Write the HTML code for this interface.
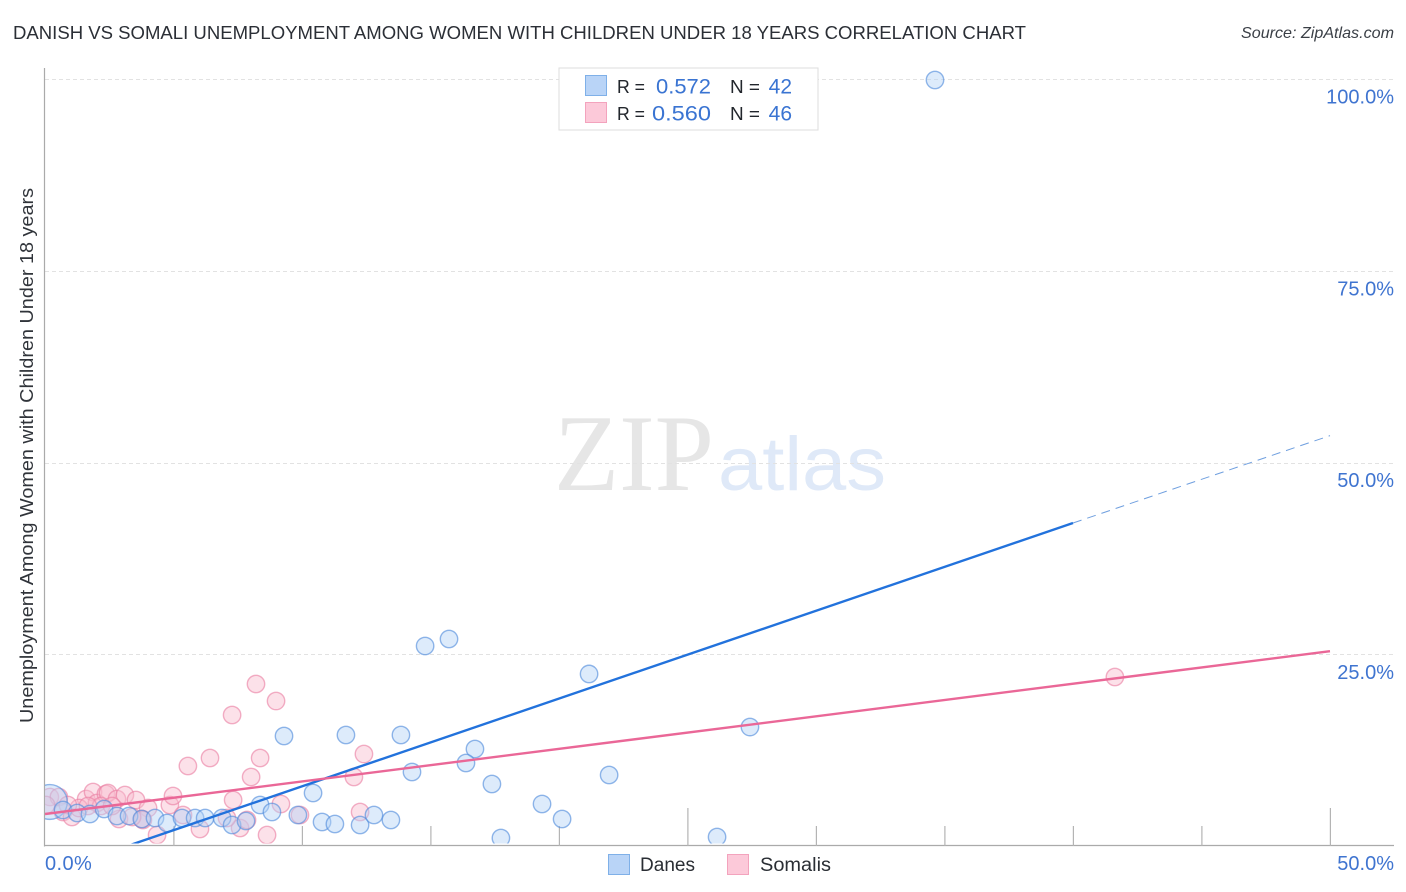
<!DOCTYPE html>
<html lang="en">
<head>
<meta charset="utf-8">
<title>Danish vs Somali Unemployment Correlation Chart</title>
<style>
html,body{margin:0;padding:0;background:#fff;width:1406px;height:892px;overflow:hidden}
svg{display:block;font-family:"Liberation Sans",sans-serif}
</style>
</head>
<body>
<svg id="chart" xmlns="http://www.w3.org/2000/svg" width="1406" height="892" viewBox="0 0 1406 892">
  <defs>
    <clipPath id="plot-clip"><rect x="45" y="60" width="1349" height="783.5"></rect></clipPath>
  </defs>
  <rect x="0" y="0" width="1406" height="892" fill="#ffffff"></rect>
  <text x="13" y="39" font-size="18.5" fill="#2b2f36" textLength="1013" lengthAdjust="spacingAndGlyphs">DANISH VS SOMALI UNEMPLOYMENT AMONG WOMEN WITH CHILDREN UNDER 18 YEARS CORRELATION CHART</text>
  <text x="1241" y="38" font-size="16" font-style="italic" fill="#3a3f46" textLength="153" lengthAdjust="spacingAndGlyphs">Source: ZipAtlas.com</text>
  <g>
    <text x="554" y="490" font-family="'Liberation Serif',serif" font-size="109" fill="#e6e6e6" textLength="160" lengthAdjust="spacingAndGlyphs">ZIP</text>
    <text x="718" y="490" font-size="76" fill="#dfe9f8" textLength="168" lengthAdjust="spacingAndGlyphs">atlas</text>
  </g>
  <g id="grid"></g>
  <g id="axes"></g>
  <g id="points" clip-path="url(#plot-clip)"></g>
  <g id="trends" clip-path="url(#plot-clip)"></g>
  <g id="labels"></g>
  <text transform="translate(33,455.5) rotate(-90)" font-size="18" fill="#30343a" text-anchor="middle" textLength="535" lengthAdjust="spacingAndGlyphs">Unemployment Among Women with Children Under 18 years</text>

  <g>
    <rect x="559" y="68" width="259" height="62" fill="#ffffff" stroke="#dddddd" stroke-width="1"></rect>
    <rect x="585.5" y="75.5" width="21" height="20" fill="#b9d4f7" stroke="#7fb0e8"></rect>
    <text x="617" y="93" font-size="18.5" fill="#22262c" textLength="28" lengthAdjust="spacingAndGlyphs">R =</text>
    <text x="656" y="93.5" font-size="21" fill="#3a74d2" textLength="55" lengthAdjust="spacingAndGlyphs">0.572</text>
    <text x="730" y="93" font-size="18.5" fill="#22262c" textLength="30" lengthAdjust="spacingAndGlyphs">N =</text>
    <text x="792" y="93.5" font-size="21" fill="#3a74d2" text-anchor="end">42</text>
    <rect x="585.5" y="102.5" width="21" height="20" fill="#fcc9d9" stroke="#f3a3bd"></rect>
    <text x="617" y="120" font-size="18.5" fill="#22262c" textLength="28" lengthAdjust="spacingAndGlyphs">R =</text>
    <text x="652" y="120.5" font-size="21" fill="#3a74d2" textLength="59" lengthAdjust="spacingAndGlyphs">0.560</text>
    <text x="730" y="120" font-size="18.5" fill="#22262c" textLength="30" lengthAdjust="spacingAndGlyphs">N =</text>
    <text x="792" y="120.5" font-size="21" fill="#3a74d2" text-anchor="end">46</text>
  </g>

  <g>
    <rect x="608.5" y="854.5" width="21" height="20" fill="#b9d4f7" stroke="#7fb0e8"></rect>
    <text x="640" y="871" font-size="19" fill="#2a2e34" textLength="55" lengthAdjust="spacingAndGlyphs">Danes</text>
    <rect x="727.5" y="854.5" width="21" height="20" fill="#fcc9d9" stroke="#f3a3bd"></rect>
    <text x="760" y="871" font-size="19" fill="#2a2e34" textLength="71" lengthAdjust="spacingAndGlyphs">Somalis</text>
  </g>
</svg>
<script>
// Chart data (percent values)
const daneX = [0.19,34.63,15.72,14.79,21.17,27.43,9.30,11.71,13.85,16.73,16.38,14.28,21.95,17.39,10.43,19.34,20.12,8.37,8.83,9.84,10.78,11.28,12.26,12.80,13.46,17.74,26.15,0.70,1.25,1.75,2.30,2.80,3.27,3.77,4.28,4.75,5.33,5.84,6.23,6.89,7.28,7.82];
const daneY = [5.74,99.87,26.99,26.08,22.43,15.51,14.34,14.47,14.47,12.65,10.82,9.65,9.26,8.08,6.91,5.48,3.52,5.35,4.43,4.04,3.13,2.87,2.74,4.04,3.39,1.04,1.17,4.69,4.30,4.17,4.82,3.91,3.91,3.52,3.65,3.00,3.65,3.65,3.65,3.65,2.74,3.26];
const daneWeight = [4,1,1,1,1,1,1,1,1,1,1,1,1,1,1,1,1,1,1,1,1,1,1,1,1,1,1,1,1,1,1,1,1,1,1,1,1,1,1,1,1,1];
const somaliX = [0.19,0.54,0.70,1.05,1.60,1.87,1.32,2.02,2.37,2.45,2.80,3.11,3.54,4.01,2.88,3.77,3.81,4.36,4.86,4.98,5.37,6.03,5.56,6.42,8.37,8.02,7.32,9.18,8.64,9.92,7.59,7.86,7.08,8.21,8.99,7.28,12.41,12.02,12.26,41.63,2.18,0.89,3.39,1.67,2.61,0.04];
const somaliY = [6.39,6.39,4.43,3.78,6.13,7.04,4.95,5.61,6.78,6.91,6.13,6.65,6.00,4.95,3.52,3.52,3.39,1.43,5.35,6.52,4.04,2.22,10.43,11.47,11.47,9.00,6.00,5.48,1.43,4.04,2.35,3.39,3.65,21.12,18.90,17.08,11.99,9.00,4.43,22.03,5.22,5.35,3.78,5.22,5.22,5.35];
const daneTrendX = [3.2,40];
const daneTrendY = [0,42.11];
const daneTrendExtX = [40,50];
const daneTrendExtY = [42.11,53.5];
const somaliTrendX = [0,50];
const somaliTrendY = [4.17,25.4];
const xTickValues = [5,10,15,20,25,30,35,40,45,50];
const xMajorTicks = [25,50];
const yGridValues = [25,50,75,100];
const yTickLabels = ['25.0%','50.0%','75.0%','100.0%'];
const xEndLabels = ['0.0%','50.0%'];

const NS = 'http://www.w3.org/2000/svg';
function xAxis(v){ return 45 + v * 25.7; }
function yAxis(v){ return 846 - v * 7.67; }
function make(tag, attrs, parent){
  const el = document.createElementNS(NS, tag);
  for (const k in attrs) el.setAttribute(k, attrs[k]);
  parent.appendChild(el);
  return el;
}
const grid = document.getElementById('grid');
const axes = document.getElementById('axes');
const points = document.getElementById('points');
const trends = document.getElementById('trends');
const labels = document.getElementById('labels');

yGridValues.forEach(function(v){
  const y = Math.round(yAxis(v)) + 0.5;
  const line = make('line', {x1:45, x2:1394, y1:y, y2:y, stroke:'#e2e2e2', 'stroke-width':1, 'stroke-dasharray':'4 3'}, grid);
  
  
});

const yLine = make('line', {x1:44.5, x2:44.5, y1:68, y2:846.5, stroke:'#aaaaaa', 'stroke-width':1.2}, axes);


const xLine = make('line', {x1:44, x2:1394, y1:845.5, y2:845.5, stroke:'#aaaaaa', 'stroke-width':1.2}, axes);


xTickValues.forEach(function(v){
  const x = xAxis(v) + 0.4;
  const top = xMajorTicks.indexOf(v) >= 0 ? 808 : 826;
  const tick = make('line', {x1:x, x2:x, y1:top, y2:846, stroke:'#b4b4b4', 'stroke-width':1.2}, axes);
  
  
});

function drawPoint(x, y, r, fill, stroke, name){
  const c = make('circle', {cx:xAxis(x), cy:yAxis(y), r:r, fill:fill, 'fill-opacity':0.45, stroke:stroke, 'stroke-opacity':0.62, 'stroke-width':1.4}, points);
  
  
}
somaliX.forEach(function(x, i){
  drawPoint(x, somaliY[i], 8.7, '#f9bccf', '#ea7fa3', 'somali-point');
});
daneX.forEach(function(x, i){
  drawPoint(x, daneY[i], 8.7 * Math.sqrt(daneWeight[i]), '#b3d2f6', '#4f8bdc', 'dane-point');
});

const daneTrend = make('line', {x1:xAxis(daneTrendX[0]), y1:yAxis(daneTrendY[0]), x2:xAxis(daneTrendX[1]), y2:yAxis(daneTrendY[1]), stroke:'#2272dc', 'stroke-width':2.4}, trends);


const daneExt = make('line', {x1:xAxis(daneTrendExtX[0]), y1:yAxis(daneTrendExtY[0]), x2:xAxis(daneTrendExtX[1]), y2:yAxis(daneTrendExtY[1]), stroke:'#6f9fdf', 'stroke-width':1, 'stroke-dasharray':'9 6'}, trends);


const somaliTrend = make('line', {x1:xAxis(somaliTrendX[0]), y1:yAxis(somaliTrendY[0]), x2:xAxis(somaliTrendX[1]), y2:yAxis(somaliTrendY[1]), stroke:'#ea6797', 'stroke-width':2.4}, trends);



yGridValues.forEach(function(v, i){
  const t = make('text', {x:1394, y:yAxis(v) + 24.5, 'font-size':20, fill:'#3f74d0', 'text-anchor':'end'}, labels);
  t.textContent = yTickLabels[i];
  
  
});
const x0 = make('text', {x:45, y:870, 'font-size':20, fill:'#3f74d0', 'letter-spacing':0.4}, labels);
x0.textContent = xEndLabels[0];


const x1 = make('text', {x:1394, y:870, 'font-size':20, fill:'#3f74d0', 'text-anchor':'end'}, labels);
x1.textContent = xEndLabels[1];


</script>
</body>
</html>
